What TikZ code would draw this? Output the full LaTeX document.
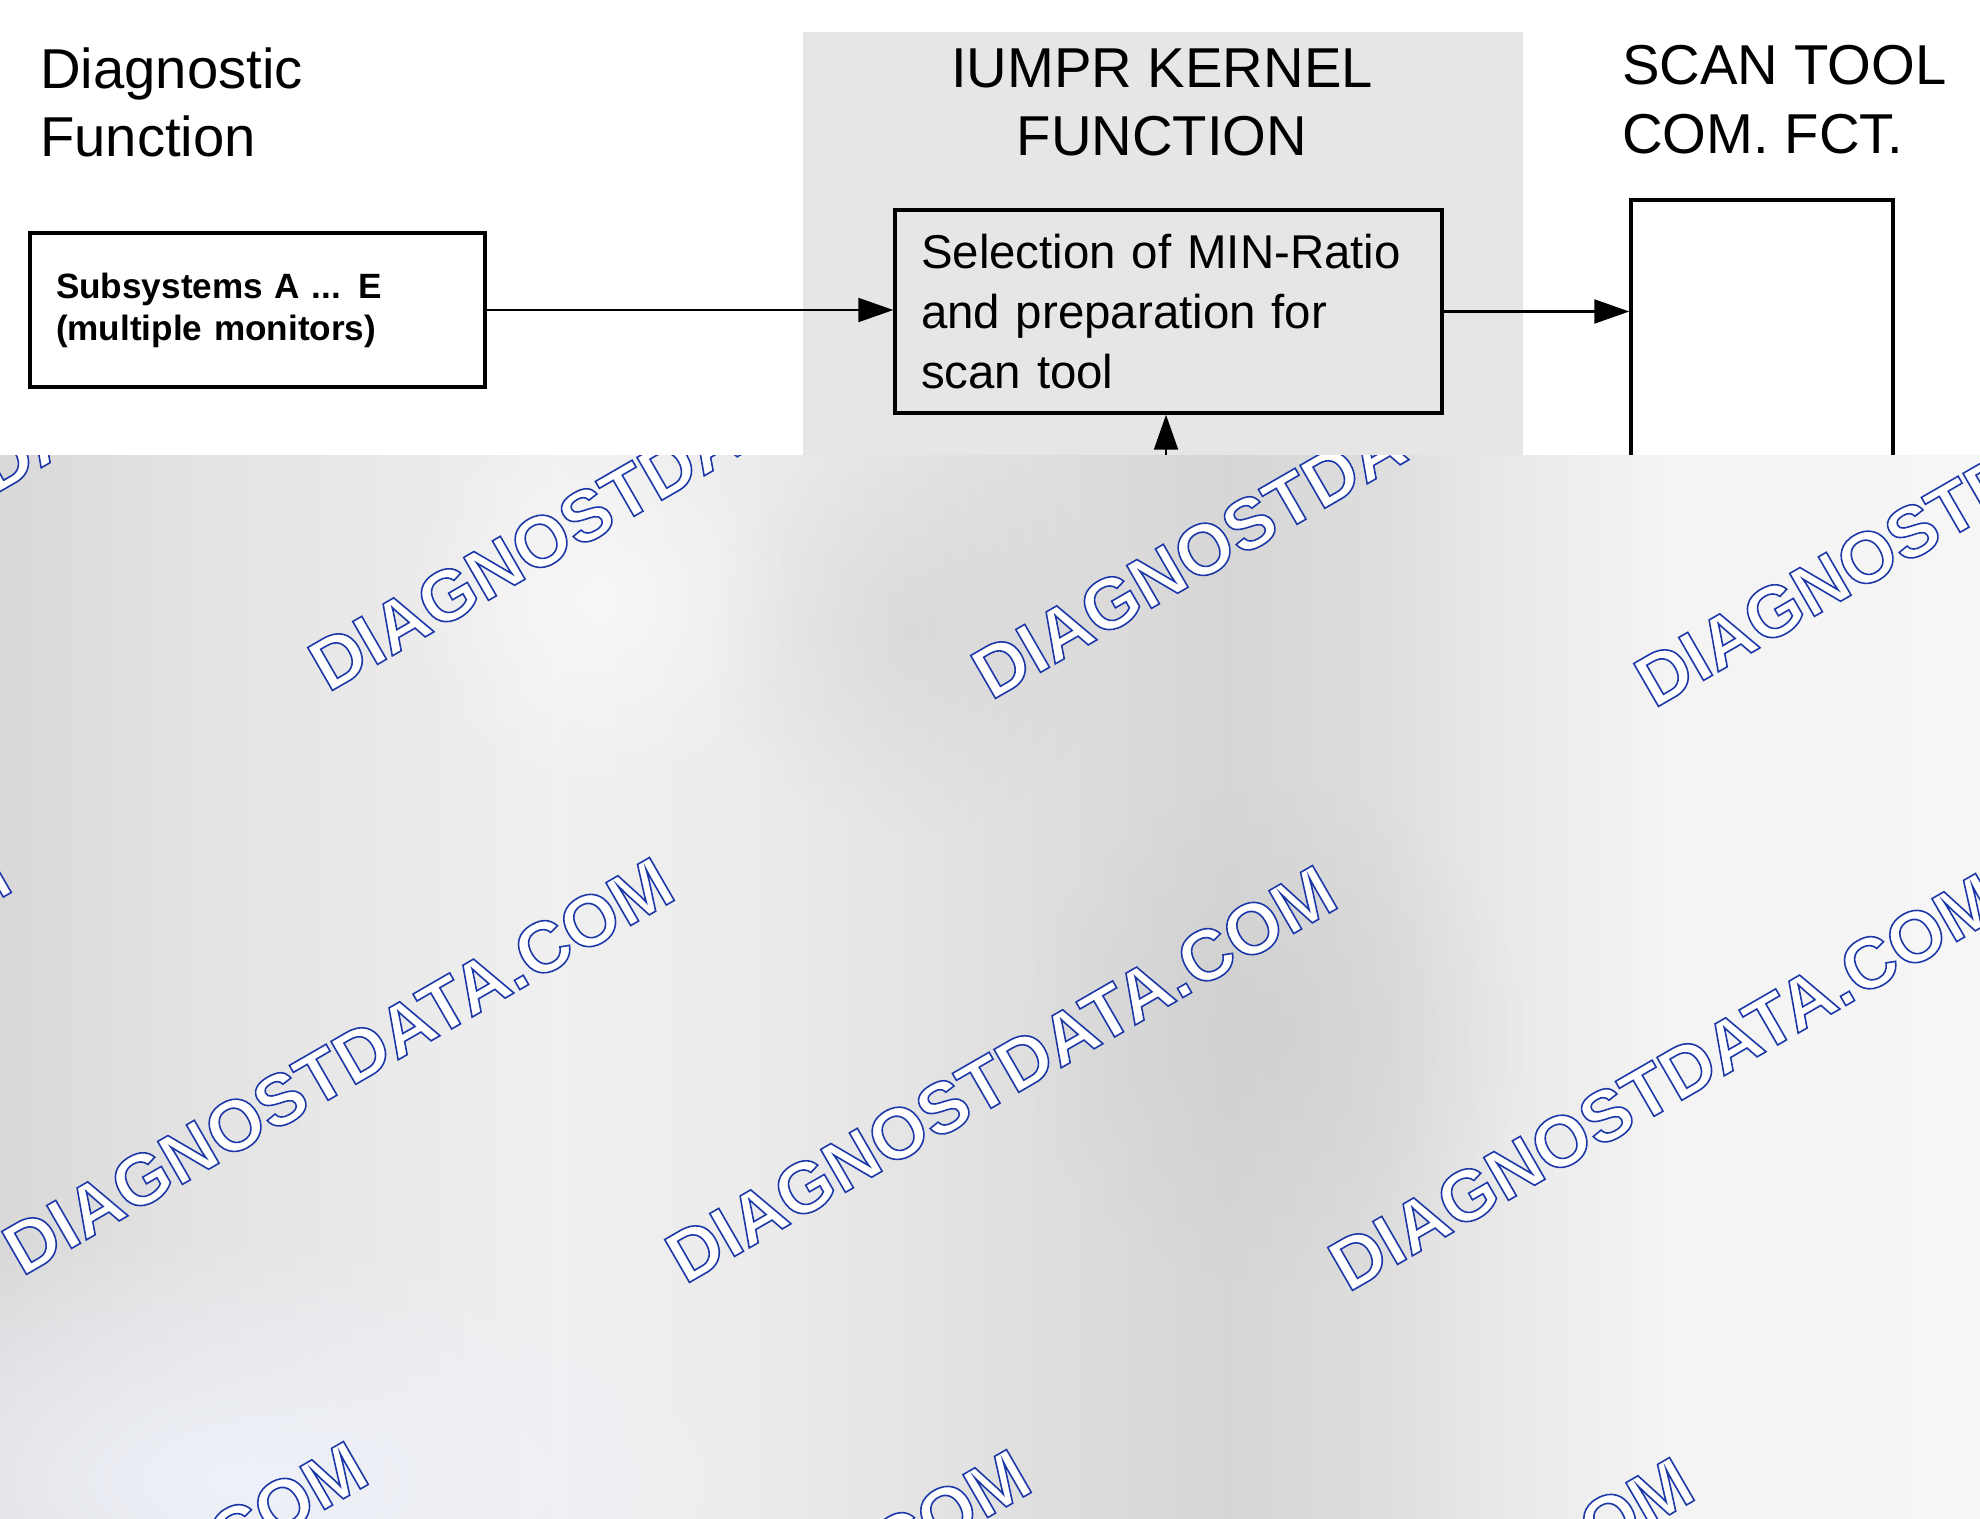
\documentclass[tikz,border=0pt]{standalone}
\usepackage{fontspec}
\setmainfont{Liberation Sans}
\usetikzlibrary{arrows.meta,fadings}

\definecolor{panelgray}{HTML}{E6E6E6}
\definecolor{veilblue}{HTML}{EEF1F9}
\pgfdeclarehorizontalshading{veil}{100bp}{%
  color(0bp)=(gray!30); color(25bp)=(gray!30); color(30bp)=(gray!22); color(39bp)=(gray!12);
  color(44bp)=(gray!15); color(50bp)=(gray!24); color(56bp)=(gray!32);
  color(60bp)=(gray!26); color(63bp)=(gray!17); color(67bp)=(gray!9);
  color(75bp)=(gray!7); color(100bp)=(gray!7)}
\tikzfading[name=blobfade, inner color=transparent!0, outer color=transparent!100]
% outlined watermark text: fill white, stroke blue
\newcommand{\stamptext}{\special{pdf:literal direct 2 Tr 0.9 w 0.11 0.22 0.66 RG}DIAGNOSTDATA.COM\special{pdf:literal direct 0 Tr}}

\begin{document}
\begin{tikzpicture}[x=0.02cm, y=-0.02cm,
    box/.style={draw, line width=2pt, inner ysep=0pt},
    head/.style={font=\fontsize{32}{39}\selectfont, inner sep=0pt},
    flow/.style={line width=1.2pt, -{Triangle[length=0.7cm, width=0.48cm]}},
    stamp/.style={rotate=30, anchor=base west, inner sep=0pt, text=white,
                  font=\fontsize{41}{50}\selectfont\bfseries}]
        \useasboundingbox (0,0) rectangle (1980,1518);
        \fill [panelgray] (803,32) rectangle (1523,700);                        %kernel panel

        \node [head, anchor=north west, align=left]  (diag)   at (40,47)   {Diagnostic\\Function};
        \node [head, anchor=north, align=center]     (iumpr)  at (1162,48) {IUMPR KERNEL\\FUNCTION};
        \node [head, anchor=north west, align=left]  (scantl) at (1622,45) {SCAN TOOL\\COM. FCT.};

        \node [box, fill=white, text width=8.06cm, inner xsep=0.52cm, minimum height=3.08cm, align=left,
               font=\fontsize{20}{24}\selectfont\bfseries] (subsys) at (257.5,310)
              {Subsystems A ... E\\(multiple monitors)};                       %diagnostic
        \node [box, fill=panelgray, text width=9.9cm, inner xsep=0.52cm, minimum height=4.06cm, align=left,
               font=\fontsize{27}{34}\selectfont] (kernel) at (1168.5,311.5)
              {Selection of MIN-Ratio\\and preparation for\\scan tool};        %kernel
        \node [box, fill=white, minimum width=5.24cm, minimum height=12cm] (scan) at (1762,500) {}; %scan tool

        \coordinate (feed) at (1166,470);
        \draw [flow] (subsys.east) -- (subsys.east -| kernel.west);            %
        \draw [flow] (kernel.east) -- (kernel.east -| scan.west);              %
        \draw [flow] (feed)        -- (feed |- kernel.south);                  %

        \begin{scope}
          \clip (0,455) rectangle (1980,1518);
          \shade [shading=veil] (0,455) rectangle (1980,1518);
          \fill [gray!40, fill opacity=0.4, path fading=blobfade] (910,630) circle [radius=4cm];
          \fill [gray!45, fill opacity=0.4, path fading=blobfade] (1275,1035) circle [radius=5cm];
          \fill [white, fill opacity=0.5, path fading=blobfade] (600,600) circle [radius=4cm];
          \fill [veilblue, path fading=blobfade] (250,1480) ellipse [x radius=12cm, y radius=5cm];
          \foreach \i in {-2,...,2}
            \foreach \j in {-1,0,1}
              \node [stamp] at ({685+663*\i+306*\j},{1285+8*\i-584*\j}) {\stamptext};
        \end{scope}
\end{tikzpicture}
\end{document}
